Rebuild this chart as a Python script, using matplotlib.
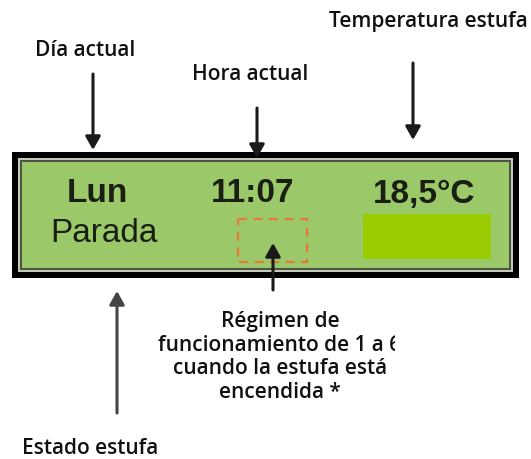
import matplotlib.pyplot as plt
from matplotlib.patches import Rectangle

# display contents
lcd_top = ["Lun", "11:07", "18,5°C"]
lcd_bottom = ["Parada"]

# callout labels
top_labels = ["Día actual", "Hora actual", "Temperatura estufa"]
bottom_labels = ["Estado estufa",
                 "Régimen de\nfuncionamiento de 1 a 6\ncuando la estufa está\nencendida *"]

fig = plt.figure(figsize=(5.31, 4.59), dpi=100)
ax = fig.add_axes([0, 0, 1, 1])
ax.set_xlim(0, 531)
ax.set_ylim(459, 0)
ax.axis("off")

lbl_font = dict(family=["Open Sans", "DejaVu Sans"], fontweight="semibold", fontsize=15, color="#111111")
lcd_font = dict(family=["Liberation Sans", "DejaVu Sans"], fontweight="bold", fontsize=24, color="#1a1f14")

# LCD frame
ax.add_patch(Rectangle((12, 152), 507, 126, facecolor="black", edgecolor="none"))
ax.add_patch(Rectangle((18, 158), 495, 114, facecolor="#c4c9b8", edgecolor="none"))
ax.add_patch(Rectangle((20, 160), 491, 110, facecolor="#4c5444", edgecolor="none"))
ax.add_patch(Rectangle((22, 162), 487, 106, facecolor="#9bc868", edgecolor="none"))

# LCD text
for txt, x in zip(lcd_top, [97, 253, 424]):
    ax.text(x, 194, txt, ha="center", va="center", **lcd_font)
ax.text(104, 233, lcd_bottom[0], ha="center", va="center",
        **{**lcd_font, "fontweight": "normal"})

# bright green block + dashed orange box
ax.add_patch(Rectangle((363, 214), 128, 45, facecolor="#99cc00", edgecolor="none"))
ax.add_patch(Rectangle((238, 219), 69, 43, facecolor="none", edgecolor="#e8783a",
                       linestyle=(0, (4, 3)), linewidth=1.6))

arrow = dict(arrowstyle="-|>,head_length=0.8,head_width=0.45", color="#1a1a1a",
             lw=2.2, shrinkA=0, shrinkB=0)

# top callouts
ax.text(35, 51, top_labels[0], ha="left", va="center", **lbl_font)
ax.annotate("", xy=(93, 150), xytext=(93, 74), arrowprops=arrow)
ax.text(250, 75, top_labels[1], ha="center", va="center", **lbl_font)
ax.annotate("", xy=(257, 158), xytext=(257, 108), arrowprops=arrow)
ax.text(329, 21, top_labels[2], ha="left", va="center", **lbl_font)
ax.annotate("", xy=(413, 140), xytext=(413, 63), arrowprops=arrow)

# bottom callouts
ax.annotate("", xy=(117, 291), xytext=(117, 413), arrowprops={**arrow, "color": "#444444"})
ax.text(22, 449, bottom_labels[0], ha="left", va="center", **lbl_font)
ax.annotate("", xy=(273, 243), xytext=(273, 290), arrowprops=arrow)
reg = ax.text(280, 357, bottom_labels[1], ha="center", va="center",
              linespacing=1.18, **lbl_font)
# the source image cuts the "6" off on the right
clip = Rectangle((0, 0), 395, 459, transform=ax.transData)
reg.set_clip_on(True)
reg.set_clip_path(clip)

fig.savefig("out.png", dpi=100)
